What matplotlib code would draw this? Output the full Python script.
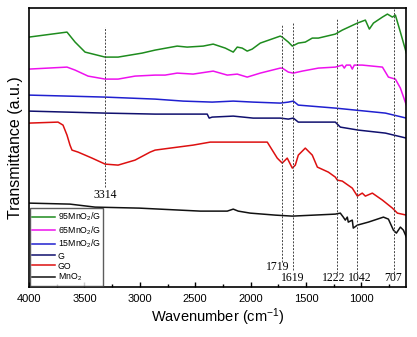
import numpy as np
import matplotlib
matplotlib.use("Agg")
import matplotlib.pyplot as plt

plt.rcParams['font.family'] = ['Liberation Sans', 'DejaVu Sans']
plt.rcParams['mathtext.fontset'] = 'custom'
plt.rcParams['mathtext.rm'] = 'Liberation Sans'
plt.rcParams['mathtext.it'] = 'Liberation Sans:italic'
plt.rcParams['mathtext.default'] = 'regular'

# spectra (wavenumber, transmittance in arbitrary units)
wn_95 = [4000, 3657, 3584, 3494, 3313, 3196, 2979, 2862, 2663, 2573, 2428, 2338, 2229, 2157, 2121,
         2076, 2031, 1986, 1913, 1733, 1715, 1660, 1624, 1570, 1507, 1444, 1389, 1236, 1173, 1037,
         965, 929, 892, 811, 766, 721, 694, 649, 595]
t_95 = [250, 255, 245, 235, 230, 230, 234, 237, 241, 240, 241, 243, 239, 235, 240,
        239, 236, 238, 244, 251, 250, 245, 241, 244, 245, 249, 249, 253, 257, 264,
        267, 258, 264, 270, 273, 270, 272, 255, 234]

wn_65 = [4000, 3657, 3584, 3467, 3313, 3196, 3043, 2862, 2772, 2663, 2519, 2338, 2211, 2121, 2031,
         1913, 1733, 1715, 1660, 1615, 1534, 1389, 1236, 1173, 1155, 1137, 1101, 1083, 1065, 993,
         811, 757, 694, 649, 595]
t_65 = [218, 220, 217, 211, 208, 208, 211, 212, 212, 214, 213, 216, 212, 213, 210,
        214, 219, 219, 215, 214, 216, 219, 220, 222, 219, 222, 222, 218, 222, 222,
        220, 210, 208, 199, 182]

wn_15 = [4000, 3648, 3313, 2862, 2609, 2347, 2157, 1977, 1733, 1660, 1615, 1570, 1236, 1055, 784, 595]
t_15 = [192, 191, 190, 188, 186, 185, 186, 185, 184, 185, 186, 182, 179, 177, 174, 169]

wn_g = [4000, 3313, 2862, 2392, 2374, 2347, 2157, 1977, 1733, 1660, 1615, 1570, 1236, 1191, 1028, 784, 595]
t_g = [176, 174, 173, 173, 169, 170, 171, 169, 169, 168, 169, 165, 165, 160, 157, 154, 149]

wn_go = [4000, 3738, 3693, 3657, 3630, 3612, 3557, 3431, 3313, 3196, 3043, 2907, 2862, 2726, 2519,
         2365, 2157, 1850, 1805, 1760, 1715, 1670, 1624, 1597, 1570, 1507, 1444, 1398, 1299, 1236,
         1218, 1173, 1083, 1037, 993, 965, 902, 811, 721, 676, 595]
t_go = [164, 165, 162, 152, 142, 137, 135, 129, 123, 122, 127, 135, 137, 139, 142,
        145, 145, 145, 137, 129, 124, 129, 119, 122, 132, 139, 132, 120, 115, 110,
        107, 106, 99, 91, 94, 91, 94, 87, 79, 74, 72]

wn_mn = [4000, 3630, 3404, 3006, 2455, 2211, 2157, 2112, 2004, 1778, 1624, 1236, 1191, 1164, 1146,
         1128, 1119, 1083, 1074, 1037, 938, 802, 757, 712, 685, 649, 622, 595]
t_mn = [84, 83, 80, 79, 76, 76, 78, 76, 74, 72, 71, 73, 74, 70, 67,
        70, 65, 67, 59, 62, 65, 70, 68, 57, 54, 60, 57, 50]

names = ['95MnO$_2$/G', '65MnO$_2$/G', '15MnO$_2$/G', 'G', 'GO', 'MnO$_2$']
colors = ['#1e8c1e', '#ee11ee', '#2020d0', '#10106e', '#dd1010', '#111111']

# marked bands: position, line top/bottom, label position
bands = [3314, 1719, 1619, 1222, 1042, 707]
band_top = [260, 262, 265, 268, 269, 279]
band_bottom = [100, 25, 17, 14, 14, 14]
label_x = [3314, 1760, 1619, 1250, 1015, 712]
label_y = [92, 20, 9, 9, 9, 9]

fig = plt.figure(figsize=(4.17, 3.37), dpi=100)
ax = fig.add_axes([0.0695, 0.148, 0.905, 0.828])

series = [(wn_95, t_95), (wn_65, t_65), (wn_15, t_15), (wn_g, t_g), (wn_go, t_go), (wn_mn, t_mn)]
for (x, y), name, c in zip(series, names, colors):
    ax.plot(x, y, color=c, lw=1.1, label=name)

for b, top, bot in zip(bands, band_top, band_bottom):
    ax.plot([b, b], [bot, top], color='#444444', lw=0.7, ls=(0, (2, 1.5)))
for b, lx, ly in zip(bands, label_x, label_y):
    ax.text(lx, ly, str(b), ha='center', va='center', fontsize=8.5, family='Liberation Serif')

ax.set_xlim(4000, 595)
ax.set_ylim(0, 279)
ax.set_xticks([4000, 3500, 3000, 2500, 2000, 1500, 1000])
ax.set_xticks(np.arange(3750, 600, -500), minor=True)
ax.set_yticks([])
ax.tick_params(axis='x', direction='in', length=3.5, width=1, labelsize=8, pad=5)
ax.tick_params(axis='x', which='minor', direction='in', length=2.5, width=1)
for s in ax.spines.values():
    s.set_linewidth(1.2)

ax.set_xlabel('Wavenumber (cm$^{-1}$)', fontsize=10.5, labelpad=2)
ax.set_ylabel('Transmittance (a.u.)', fontsize=11.5, labelpad=4)

leg = ax.legend(loc='lower left', bbox_to_anchor=(0.002, 0.005), fontsize=6.3, frameon=True,
                fancybox=False, edgecolor='#333333', labelspacing=0.12, handlelength=2.6,
                handletextpad=0.3, borderpad=0.3, borderaxespad=0)
leg.get_frame().set_linewidth(1.0)

fig.savefig('out.png', dpi=100)
